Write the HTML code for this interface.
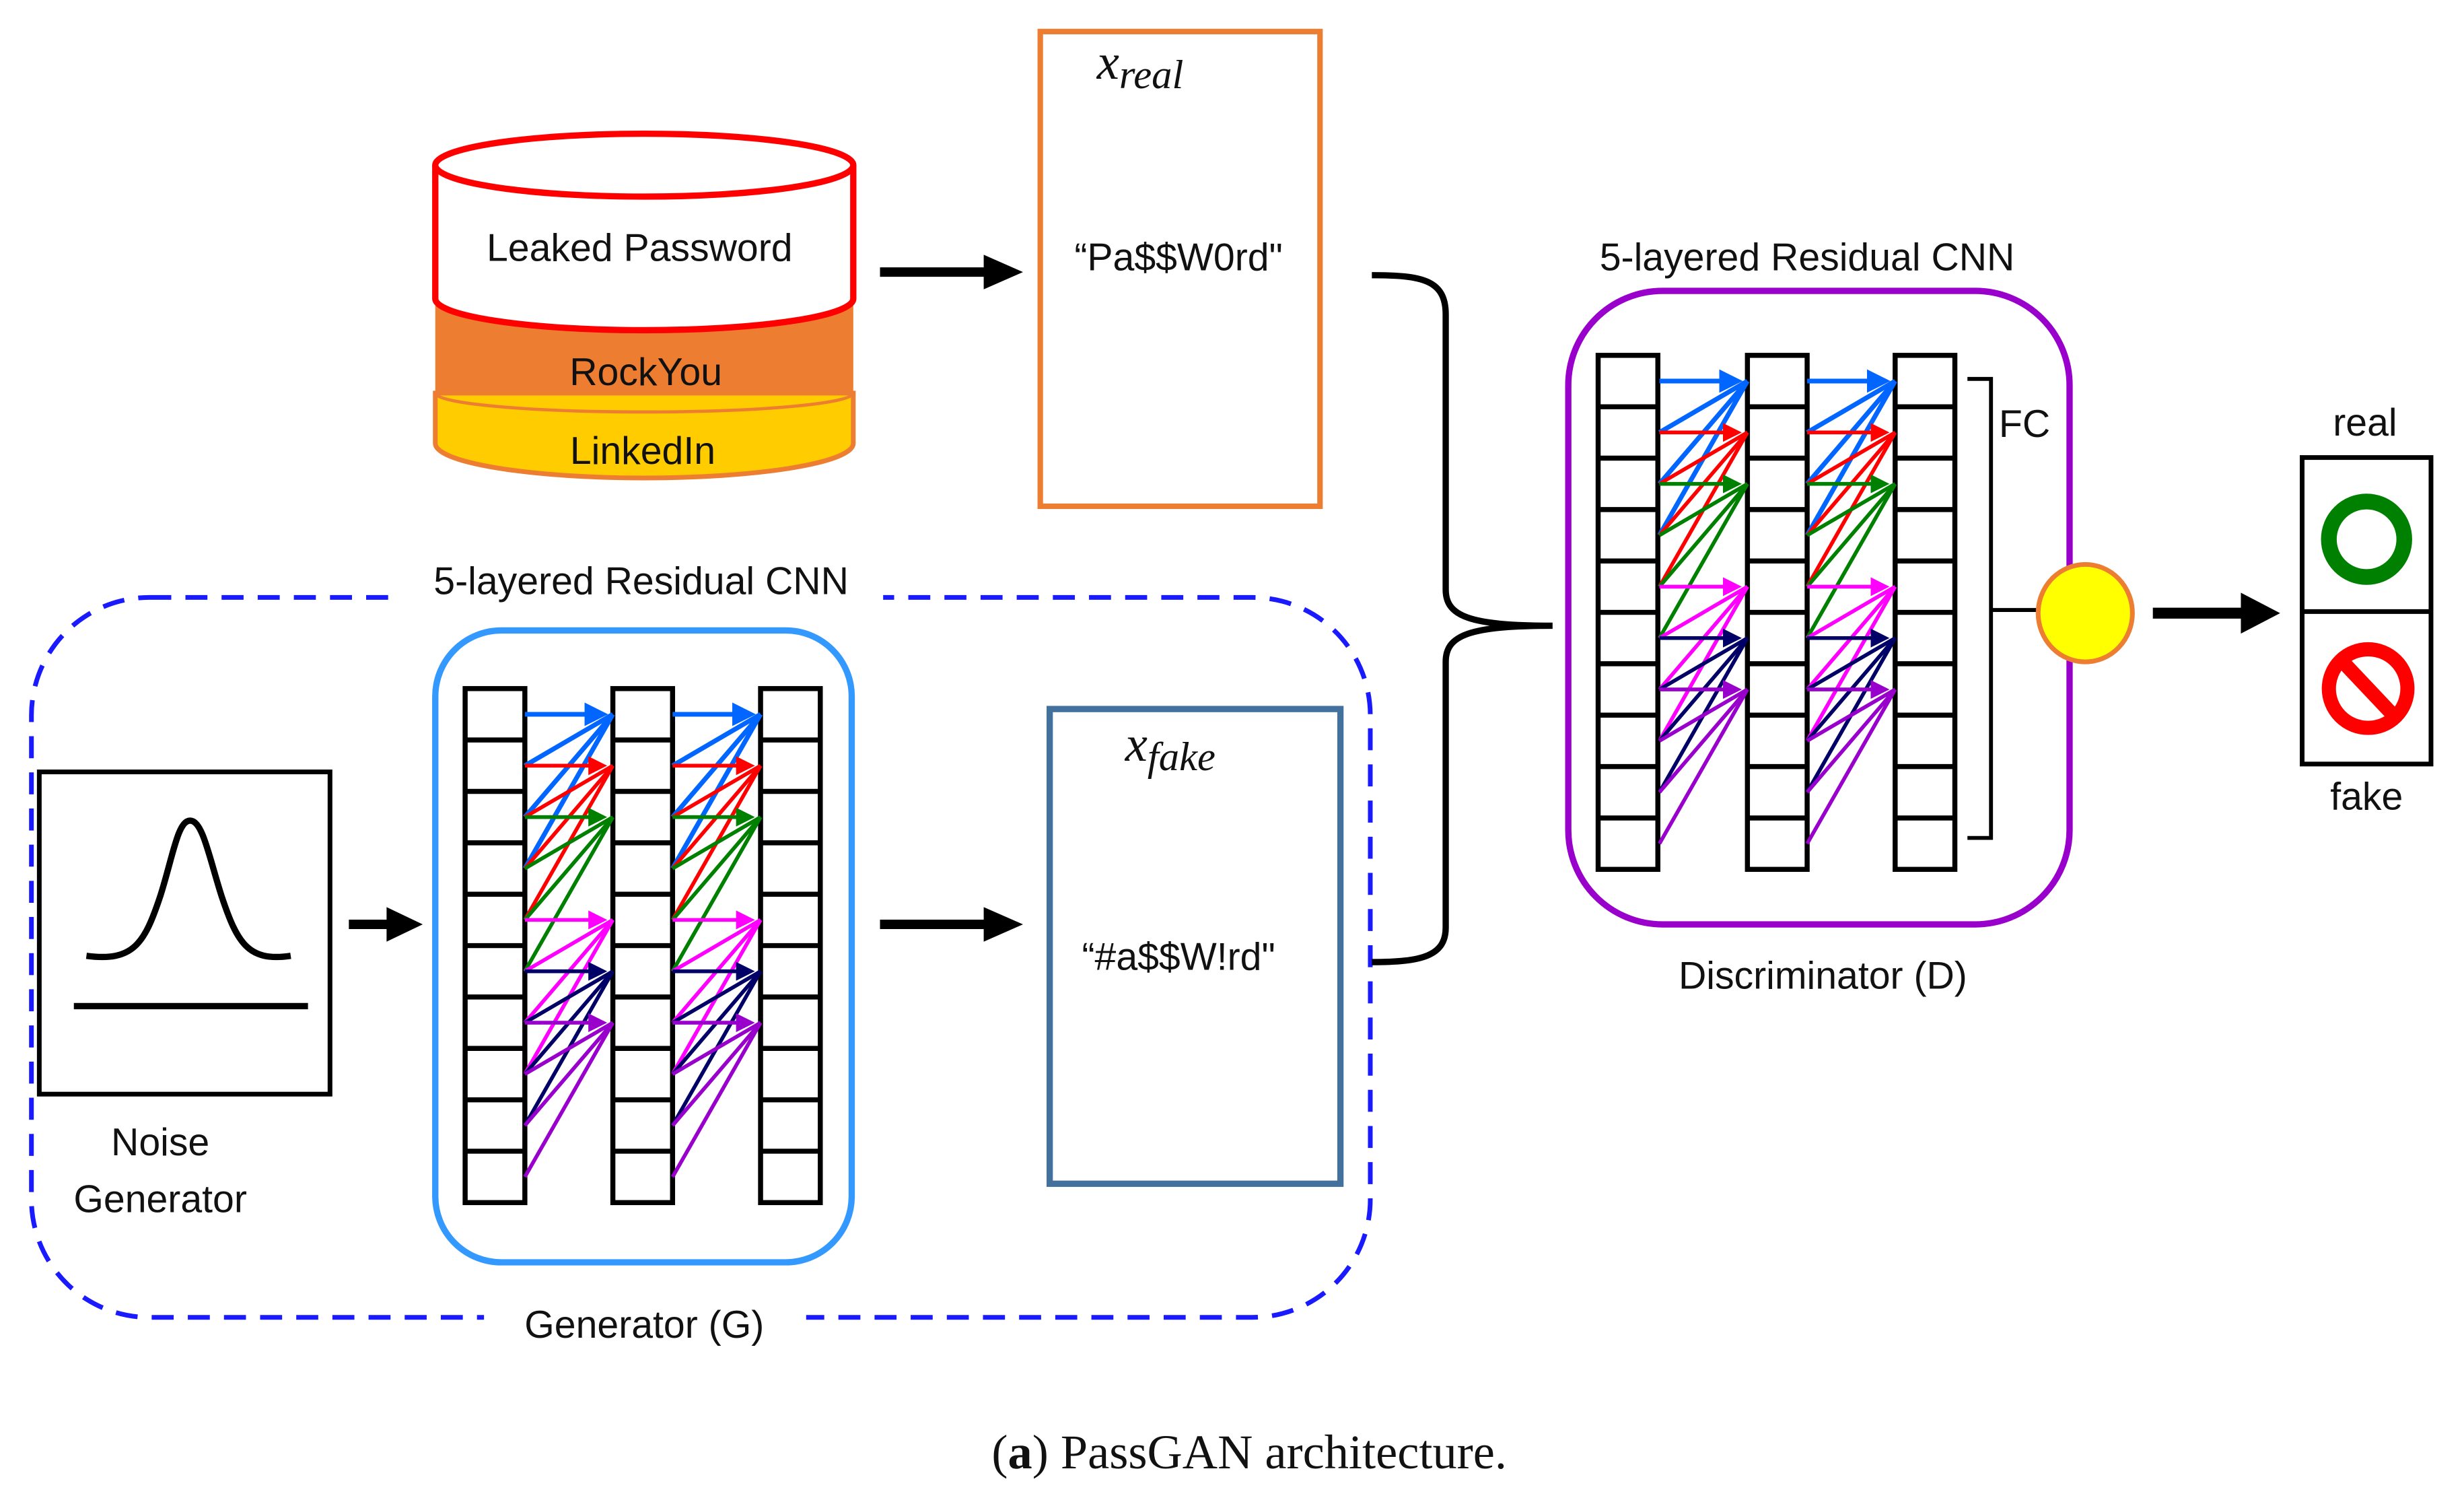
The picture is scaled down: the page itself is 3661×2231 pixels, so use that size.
<!DOCTYPE html>
<html><head><meta charset="utf-8"><style>
html,body{margin:0;padding:0;background:#fff}
svg{display:block}
text{font-family:"Liberation Sans",sans-serif;font-size:24.5px;fill:#111}
</style></head><body>
<svg width="3661" height="2231" viewBox="0 0 1568 955.4" xmlns="http://www.w3.org/2000/svg">
<defs>
<marker id="mb" markerWidth="5" markerHeight="5" refX="4" refY="2.5" orient="auto" markerUnits="strokeWidth"><path d="M0,0L5,2.5L0,5z" fill="#0066ff"/></marker>
<marker id="mr" markerWidth="5" markerHeight="5" refX="4" refY="2.5" orient="auto" markerUnits="strokeWidth"><path d="M0,0L5,2.5L0,5z" fill="#ff0000"/></marker>
<marker id="mg" markerWidth="5" markerHeight="5" refX="4" refY="2.5" orient="auto" markerUnits="strokeWidth"><path d="M0,0L5,2.5L0,5z" fill="#008000"/></marker>
<marker id="mm" markerWidth="5" markerHeight="5" refX="4" refY="2.5" orient="auto" markerUnits="strokeWidth"><path d="M0,0L5,2.5L0,5z" fill="#ff00ff"/></marker>
<marker id="mn" markerWidth="5" markerHeight="5" refX="4" refY="2.5" orient="auto" markerUnits="strokeWidth"><path d="M0,0L5,2.5L0,5z" fill="#000066"/></marker>
<marker id="mp" markerWidth="5" markerHeight="5" refX="4" refY="2.5" orient="auto" markerUnits="strokeWidth"><path d="M0,0L5,2.5L0,5z" fill="#9900cc"/></marker>
<g id="col" fill="none" stroke="#000" stroke-width="3.2">
<rect x="0" y="0" width="38" height="327" fill="#fff"/>
<path d="M0,32.7H38M0,65.4H38M0,98.1H38M0,130.8H38M0,163.5H38M0,196.2H38M0,228.9H38M0,261.6H38M0,294.3H38"/>
</g>
<g id="fan" fill="none" stroke-width="2.4">
<g stroke="#0066ff" stroke-width="3"><line x1="0" y1="16.35" x2="50" y2="16.35" marker-end="url(#mb)"/><line x1="0" y1="49.05" x2="56" y2="16.35"/><line x1="0" y1="81.75" x2="56" y2="16.35"/><line x1="0" y1="114.45" x2="56" y2="16.35"/></g>
<g stroke="#ff0000"><line x1="0" y1="49.05" x2="50" y2="49.05" marker-end="url(#mr)"/><line x1="0" y1="81.75" x2="56" y2="49.05"/><line x1="0" y1="114.45" x2="56" y2="49.05"/><line x1="0" y1="147.15" x2="56" y2="49.05"/></g>
<g stroke="#008000"><line x1="0" y1="81.75" x2="50" y2="81.75" marker-end="url(#mg)"/><line x1="0" y1="114.45" x2="56" y2="81.75"/><line x1="0" y1="147.15" x2="56" y2="81.75"/><line x1="0" y1="179.85" x2="56" y2="81.75"/></g>
<g stroke="#ff00ff"><line x1="0" y1="147.15" x2="50" y2="147.15" marker-end="url(#mm)"/><line x1="0" y1="179.85" x2="56" y2="147.15"/><line x1="0" y1="212.55" x2="56" y2="147.15"/><line x1="0" y1="245.25" x2="56" y2="147.15"/></g>
<g stroke="#000066"><line x1="0" y1="179.85" x2="50" y2="179.85" marker-end="url(#mn)"/><line x1="0" y1="212.55" x2="56" y2="179.85"/><line x1="0" y1="245.25" x2="56" y2="179.85"/><line x1="0" y1="277.95" x2="56" y2="179.85"/></g>
<g stroke="#9900cc"><line x1="0" y1="212.55" x2="50" y2="212.55" marker-end="url(#mp)"/><line x1="0" y1="245.25" x2="56" y2="212.55"/><line x1="0" y1="277.95" x2="56" y2="212.55"/><line x1="0" y1="310.65" x2="56" y2="212.55"/></g>
</g>
</defs>

<path d="M277,282 L277,250 L543,250 L543,282 A133,22 0 0 1 277,282 Z" fill="#ffcc00" stroke="#ed7d31" stroke-width="3"/>
<path d="M277,250 L277,190 A133,20 0 0 0 543,190 L543,250 Z" fill="#ed7d31"/>
<path d="M277,250 A133,12 0 0 0 543,250" fill="none" stroke="#ed7d31" stroke-width="2"/>
<path d="M277,105 L277,190 A133,20 0 0 0 543,190 L543,105" fill="#fff" stroke="#ff0000" stroke-width="4"/>
<ellipse cx="410" cy="105" rx="133" ry="20" fill="#fff" stroke="#ff0000" stroke-width="4"/>
<text x="407" y="166" text-anchor="middle">Leaked Password</text>
<text x="411" y="245" text-anchor="middle">RockYou</text>
<text x="409" y="295" text-anchor="middle">LinkedIn</text>

<line x1="560" y1="173" x2="630" y2="173" stroke="#000" stroke-width="6"/>
<path d="M626,162 L651,173 L626,184 Z" fill="#000"/>

<rect x="662" y="20" width="178" height="302" fill="none" stroke="#ed7d31" stroke-width="3.5"/>
<text x="698" y="50" style="font-family:'Liberation Serif',serif;font-style:italic;font-size:32px">x<tspan dy="6" font-size="26">real</tspan></text>
<text x="750" y="172" text-anchor="middle">“Pa$$W0rd"</text>

<rect x="20" y="380" width="852" height="458" rx="75" fill="none" stroke="#1a1aff" stroke-width="3" stroke-dasharray="14,9"/>
<rect x="252" y="365" width="310" height="30" fill="#fff"/>
<rect x="308" y="825" width="205" height="30" fill="#fff"/>
<text x="408" y="378" text-anchor="middle">5-layered Residual CNN</text>
<text x="410" y="851" text-anchor="middle">Generator (G)</text>

<rect x="25" y="491" width="185" height="205" fill="#fff" stroke="#000" stroke-width="3"/>
<path d="M55,608 C85,612 92,600 102,570 C110,545 113,522 121,522 C129,522 133,545 141,570 C151,600 158,612 185,608" fill="none" stroke="#000" stroke-width="4"/>
<line x1="47" y1="640" x2="196" y2="640" stroke="#000" stroke-width="4"/>
<text x="102" y="735" text-anchor="middle">Noise</text>
<text x="102" y="771" text-anchor="middle">Generator</text>

<line x1="222" y1="588" x2="250" y2="588" stroke="#000" stroke-width="6"/>
<path d="M246,577 L269,588 L246,599 Z" fill="#000"/>

<rect x="277" y="401" width="265" height="402" rx="42" fill="#fff" stroke="#3399ff" stroke-width="4"/>
<use href="#col" x="296" y="438"/>
<use href="#col" x="390" y="438"/>
<use href="#col" x="484" y="438"/>
<use href="#fan" x="334" y="438"/>
<use href="#fan" x="428" y="438"/>

<line x1="560" y1="588" x2="630" y2="588" stroke="#000" stroke-width="6"/>
<path d="M626,577 L651,588 L626,599 Z" fill="#000"/>

<rect x="668" y="451" width="185" height="302" fill="#fff" stroke="#41719c" stroke-width="4"/>
<text x="716" y="484" style="font-family:'Liberation Serif',serif;font-style:italic;font-size:32px">x<tspan dy="6" font-size="26">fake</tspan></text>
<text x="750" y="617" text-anchor="middle">“#a$$W!rd"</text>

<path d="M873,175 C905,175 920,178 920,200 L920,375 C920,392 935,398 988,398 C935,398 920,404 920,421 L920,590 C920,608 905,612 873,612" fill="none" stroke="#000" stroke-width="4"/>

<text x="1150" y="172" text-anchor="middle">5-layered Residual CNN</text>
<rect x="998" y="185" width="319" height="403" rx="60" fill="#fff" stroke="#9900cc" stroke-width="4"/>
<use href="#col" x="1017" y="226"/>
<use href="#col" x="1112" y="226"/>
<use href="#col" x="1206" y="226"/>
<use href="#fan" x="1056" y="226"/>
<use href="#fan" x="1150" y="226"/>
<path d="M1252,241 H1267 V533 H1252 M1267,388 H1298" fill="none" stroke="#000" stroke-width="2.5"/>
<text x="1272" y="278">FC</text>
<ellipse cx="1327" cy="390" rx="30" ry="31" fill="#ffff00" stroke="#ed7d31" stroke-width="3"/>
<text x="1160" y="629" text-anchor="middle">Discriminator (D)</text>

<line x1="1370" y1="390" x2="1430" y2="390" stroke="#000" stroke-width="7"/>
<path d="M1426,377 L1451,390 L1426,403 Z" fill="#000"/>

<text x="1505" y="277" text-anchor="middle">real</text>
<rect x="1465" y="291" width="82" height="195" fill="#fff" stroke="#000" stroke-width="3"/>
<line x1="1465" y1="389" x2="1547" y2="389" stroke="#000" stroke-width="3"/>
<ellipse cx="1506" cy="343" rx="24" ry="24" fill="none" stroke="#008000" stroke-width="10"/>
<ellipse cx="1507" cy="438" rx="25" ry="25" fill="none" stroke="#ff0000" stroke-width="9"/>
<line x1="1490" y1="420" x2="1524" y2="456" stroke="#ff0000" stroke-width="9"/>
<text x="1506" y="515" text-anchor="middle">fake</text>

<text x="795" y="934" text-anchor="middle" style="font-family:'Liberation Serif',serif;font-size:31px">(<tspan font-weight="bold">a</tspan>) PassGAN architecture.</text>
</svg>
</body></html>
